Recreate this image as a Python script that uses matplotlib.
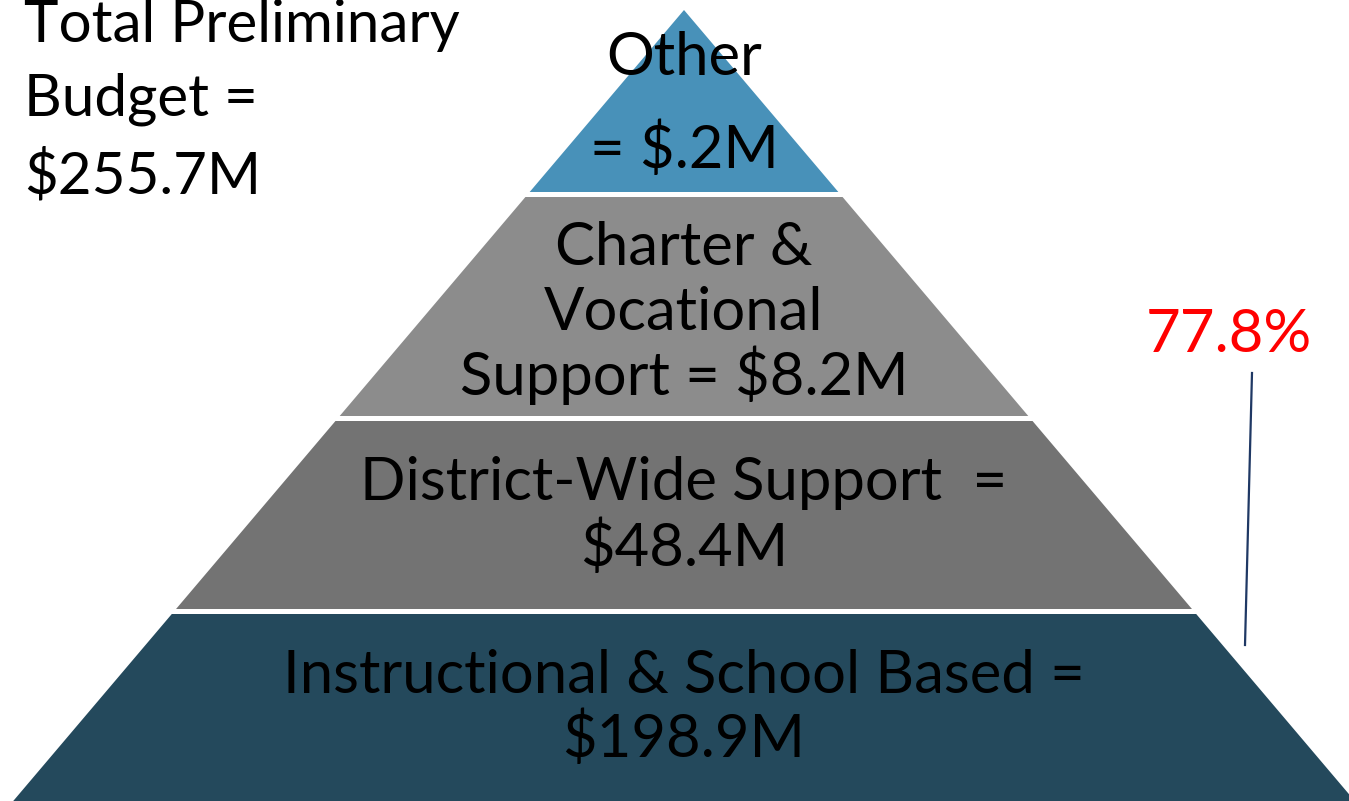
import matplotlib.pyplot as plt
import numpy as np

plt.rcParams['font.family'] = ['Lato', 'DejaVu Sans']

# pyramid layers, top to bottom
layer_names = ['Other', 'Charter & Vocational Support', 'District-Wide Support', 'Instructional & School Based']
layer_values = [0.2, 8.2, 48.4, 198.9]   # $M
layer_colors = ['#4891B9', '#8C8C8C', '#737373', '#24495C']
layer_lines = [
    ['Other', '= $.2M'],
    ['Charter &', 'Vocational', 'Support = $8.2M'],
    ['District-Wide Support  =', '$48.4M'],
    ['Instructional & School Based =', '$198.9M'],
]
total = 255.7
share_label = '77.8%'

# geometry in pixel units
W, H = 1349, 801
apex_x, apex_y = 684, 10
slope = 0.848
edges = [(10, 192), (197, 416), (421, 609), (614, 810)]
baselines = [[75, 168], [265, 330, 395], [500, 566], [693, 757]]

fig = plt.figure(figsize=(W / 100, H / 100), dpi=100)
ax = fig.add_axes([0, 0, 1, 1])
ax.set_xlim(0, W)
ax.set_ylim(H, 0)
ax.axis('off')

for (y0, y1), col in zip(edges, layer_colors):
    h0 = (y0 - apex_y) * slope
    h1 = (y1 - apex_y) * slope
    xs = [apex_x - h0, apex_x + h0, apex_x + h1, apex_x - h1]
    ys = [y0, y0, y1, y1]
    ax.fill(xs, ys, color=col, lw=0)

fs = 43
for lines, bls in zip(layer_lines, baselines):
    for txt, b in zip(lines, bls):
        ax.text(apex_x, b, txt, ha='center', va='baseline', fontsize=fs, color='black')

# total box, top-left
ax.text(24, 42, 'Total Preliminary', ha='left', va='baseline', fontsize=42)
ax.text(24, 116, 'Budget =', ha='left', va='baseline', fontsize=42)
ax.text(24, 193, '$%.1fM' % total, ha='left', va='baseline', fontsize=42)

ax.plot([1245, 1252], [645, 373], color='#1F3864', lw=1.6)
ax.text(1229, 352, share_label, ha='center', va='baseline', fontsize=fs, color='#FF0000')

fig.savefig('out.png', dpi=100)
